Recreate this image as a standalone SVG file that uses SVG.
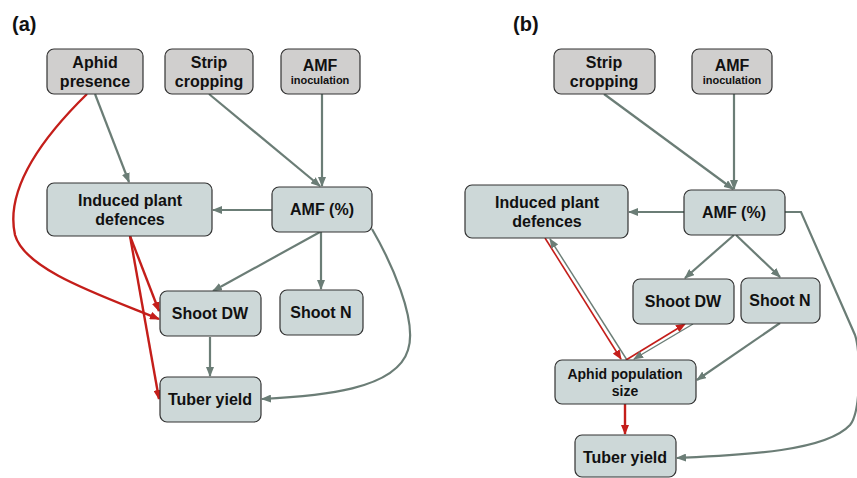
<svg xmlns="http://www.w3.org/2000/svg" width="857" height="478" viewBox="0 0 857 478">
<defs>
<style>
.box{stroke:#333;stroke-width:1.2}
.top{fill:#d0cfce}
.nd{fill:#cdd8d8}
text{font-family:"Liberation Sans",Arial,sans-serif;font-weight:bold;fill:#111;text-anchor:middle}
.t{font-size:16px}
.s{font-size:11px}
.m{font-size:14px}
.lab{font-size:20px;text-anchor:start}
.g{stroke:#6b7d76;stroke-width:2.2;fill:none}
.gt{stroke:#6b7d76;stroke-width:1.4;fill:none}
.r{stroke:#c41e1a;stroke-width:2.4;fill:none}
.rt{stroke:#c41e1a;stroke-width:1.6;fill:none}
</style>
<marker id="ag" markerWidth="10" markerHeight="8" refX="9" refY="4" orient="auto" markerUnits="userSpaceOnUse"><path d="M0,0 L10,4 L0,8 z" fill="#6b7d76"/></marker>
<marker id="ar" markerWidth="10" markerHeight="8" refX="9" refY="4" orient="auto" markerUnits="userSpaceOnUse"><path d="M0,0 L10,4 L0,8 z" fill="#c41e1a"/></marker>
</defs>
<rect width="857" height="478" fill="#fff"/>
<text class="lab" x="12" y="31">(a)</text>
<text class="lab" x="513" y="31">(b)</text>

<g id="connectors">
<!-- panel a -->
<line class="g" x1="95" y1="94" x2="129" y2="182" marker-end="url(#ag)"/>
<line class="g" x1="209" y1="94" x2="320" y2="186" marker-end="url(#ag)"/>
<line class="g" x1="322" y1="94" x2="322" y2="186" marker-end="url(#ag)"/>
<line class="g" x1="272" y1="210" x2="213" y2="210" marker-end="url(#ag)"/>
<line class="g" x1="320" y1="232" x2="213" y2="291" marker-end="url(#ag)"/>
<line class="g" x1="321" y1="232" x2="321" y2="289" marker-end="url(#ag)"/>
<line class="g" x1="210" y1="337" x2="210" y2="376" marker-end="url(#ag)"/>
<path class="g" d="M372,229 C390,260 418,320 408,350 C396,390 320,396 262,399" marker-end="url(#ag)"/>
<path class="r" d="M87,94 C40,140 5,190 15,235 C25,270 100,295 159,319" marker-end="url(#ar)"/>
<line class="r" x1="130" y1="236" x2="159" y2="311" marker-end="url(#ar)"/>
<line class="r" x1="130" y1="236" x2="159" y2="399" marker-end="url(#ar)"/>
<!-- panel b -->
<line class="g" x1="604" y1="94" x2="733" y2="189" marker-end="url(#ag)"/>
<line class="g" x1="734" y1="94" x2="734" y2="189" marker-end="url(#ag)"/>
<line class="g" x1="684" y1="212" x2="629" y2="212" marker-end="url(#ag)"/>
<line class="g" x1="734" y1="235" x2="685" y2="278" marker-end="url(#ag)"/>
<line class="g" x1="736" y1="235" x2="780" y2="277" marker-end="url(#ag)"/>
<line class="g" x1="780" y1="323" x2="697" y2="380" marker-end="url(#ag)"/>
<path class="g" d="M785,212 L801,212 L855,335 C860,350 862,410 850,425 C825,452 740,455 677,458" marker-end="url(#ag)"/>
<line class="rt" x1="545" y1="238" x2="621" y2="359" marker-end="url(#ar)"/>
<line class="gt" x1="627" y1="360" x2="550" y2="239" marker-end="url(#ag)"/>
<line class="rt" x1="626" y1="360" x2="685" y2="324" marker-end="url(#ar)"/>
<line class="gt" x1="693" y1="324" x2="634" y2="359" marker-end="url(#ag)"/>
<line class="r" x1="625" y1="404" x2="625" y2="434" marker-end="url(#ar)"/>
</g>

<g id="a-aphid-presence"><rect class="box top" x="47" y="49" width="96" height="45" rx="7"/><text class="t" x="95" y="68">Aphid</text><text class="t" x="95" y="87">presence</text></g>
<g id="a-strip-cropping"><rect class="box top" x="165" y="49" width="88" height="45" rx="7"/><text class="t" x="209" y="68">Strip</text><text class="t" x="209" y="87">cropping</text></g>
<g id="a-amf-inoculation"><rect class="box top" x="281" y="49" width="79" height="45" rx="7"/><text class="t" x="320" y="71">AMF</text><text class="s" x="320" y="84">inoculation</text></g>
<g id="a-induced"><rect class="box nd" x="47" y="183" width="165" height="53" rx="7"/><text class="t" x="130" y="206">Induced plant</text><text class="t" x="130" y="225">defences</text></g>
<g id="a-amf"><rect class="box nd" x="272" y="187" width="100" height="45" rx="7"/><text class="t" x="322" y="215">AMF (%)</text></g>
<g id="a-shoot-dw"><rect class="box nd" x="160" y="291" width="101" height="45" rx="7"/><text class="t" x="210" y="319">Shoot DW</text></g>
<g id="a-shoot-n"><rect class="box nd" x="280" y="290" width="83" height="45" rx="7"/><text class="t" x="321" y="318">Shoot N</text></g>
<g id="a-tuber"><rect class="box nd" x="160" y="377" width="101" height="45" rx="7"/><text class="t" x="210" y="405">Tuber yield</text></g>

<g id="b-strip-cropping"><rect class="box top" x="554" y="49" width="101" height="45" rx="7"/><text class="t" x="604" y="68">Strip</text><text class="t" x="604" y="87">cropping</text></g>
<g id="b-amf-inoculation"><rect class="box top" x="692" y="49" width="80" height="45" rx="7"/><text class="t" x="732" y="71">AMF</text><text class="s" x="732" y="84">inoculation</text></g>
<g id="b-induced"><rect class="box nd" x="465" y="185" width="163" height="53" rx="7"/><text class="t" x="547" y="208">Induced plant</text><text class="t" x="547" y="227">defences</text></g>
<g id="b-amf"><rect class="box nd" x="684" y="190" width="101" height="45" rx="7"/><text class="t" x="734" y="218">AMF (%)</text></g>
<g id="b-shoot-dw"><rect class="box nd" x="633" y="279" width="101" height="45" rx="7"/><text class="t" x="683" y="307">Shoot DW</text></g>
<g id="b-shoot-n"><rect class="box nd" x="741" y="278" width="79" height="45" rx="7"/><text class="t" x="780" y="306">Shoot N</text></g>
<g id="b-aphid-pop"><rect class="box nd" x="555" y="360" width="141" height="44" rx="7"/><text class="m" x="625" y="379">Aphid population</text><text class="m" x="625" y="396">size</text></g>
<g id="b-tuber"><rect class="box nd" x="575" y="435" width="101" height="42" rx="7"/><text class="t" x="625" y="463">Tuber yield</text></g>
</svg>
